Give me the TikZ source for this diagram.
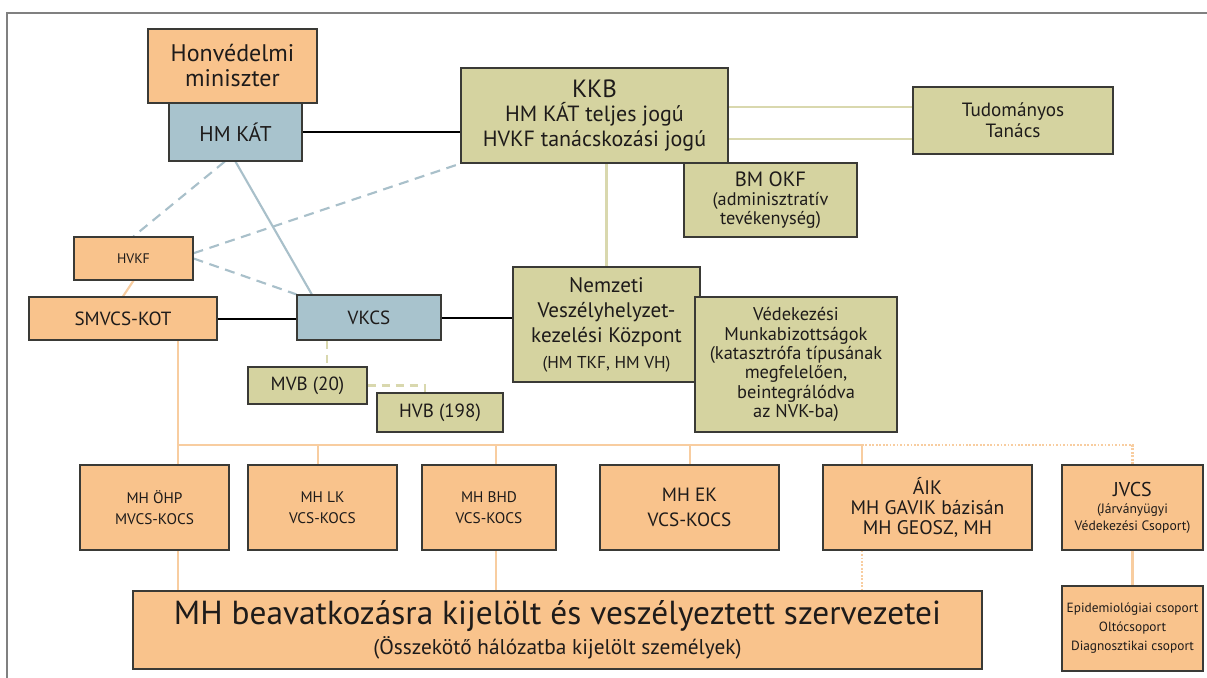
\documentclass[tikz,border=0pt]{standalone}
\usepackage{fontspec}
\setmainfont{PT Sans}
\usetikzlibrary{backgrounds}
\definecolor{narancs}{HTML}{F9C38C}
\definecolor{oliva}{HTML}{D5D3A0}
\definecolor{kek}{HTML}{A8C3CD}
\definecolor{keret}{HTML}{3A3A36}
\definecolor{szoveg}{HTML}{1E1B1A}
\definecolor{nvon}{HTML}{F8CDA0}
\definecolor{ovon}{HTML}{D9D8AE}
\definecolor{kvon}{HTML}{A9C0CA}
\newcommand\meret[2]{\fontsize{#1pt}{#2pt}\selectfont}

\begin{document}
\begin{tikzpicture}[x=0.75pt,y=-0.75pt,
doboz/.style={draw=keret,line width=0.9pt,inner sep=0pt,align=center,text=szoveg},
nb/.style={doboz,fill=narancs},ob/.style={doboz,fill=oliva},kb/.style={doboz,fill=kek},
bx/.style 2 args={minimum width=#1*0.75pt,minimum height=#2*0.75pt},
fekete/.style={line width=1.5pt,black},
nvonal/.style={line width=1.6pt,nvon},
ovonal/.style={line width=1.6pt,ovon},
kvonal/.style={line width=1.6pt,kvon},
kszag/.style={line width=1.6pt,kvon,dash pattern=on 7.5pt off 5pt},
oszag/.style={line width=1.6pt,ovon,dash pattern=on 6pt off 4.5pt},
pontozott/.style={line width=1.6pt,nvon,dash pattern=on 1.3pt off 1.3pt}]
\useasboundingbox (0,0) rectangle (1207,678);
\draw[line width=1.2pt,gray] (1207,13) -- (7,13) -- (7,678);

\node[nb,bx={169}{74},font=\meret{18}{18.75}] (minis) at (232.5,66) {Honvédelmi\\miniszter};
\node[kb,bx={133}{58},font=\meret{16}{18}] (hmkat) at (235.5,132) {HM KÁT};
\node[ob,bx={267}{95},font=\meret{16.5}{18.5}] (kkb) at (594.5,115.5) {{\meret{18.7}{20}KKB}\\HM KÁT teljes jogú\\HVKF tanácskozási jogú};
\node[ob,bx={200}{67},font=\meret{14.4}{15.5}] (tt) at (1013,120.5) {Tudományos\\Tanács};
\node[ob,bx={173}{74},font=\meret{13.7}{14}] (bmokf) at (770.5,200) {{\meret{15.5}{16}BM OKF}\\(adminisztratív\\tevékenység)};
\node[nb,bx={119}{43},font=\meret{10.4}{12}] (hvkf) at (133.5,258.5) {HVKF};
\node[nb,bx={188}{43},font=\meret{14.3}{16}] (smvcs) at (123,318.5) {SMVCS-KOT};
\node[kb,bx={144}{45},font=\meret{14.3}{16}] (vkcs) at (369,317.5) {VKCS};
\node[ob,bx={119}{37},font=\meret{14.3}{16}] (mvb) at (307.5,385.5) {MVB (20)};
\node[ob,bx={126}{39},font=\meret{14.3}{16}] (hvb) at (440,412.5) {HVB (198)};
\node[ob,bx={187}{115},font=\meret{15.8}{19}] (nvk) at (606.5,324.5) {Nemzeti\\Veszélyhelyzet-\\kezelési Központ\\{\meret{12.9}{19}(HM TKF, HM VH)}};
\node[ob,bx={202}{135},font=\meret{13.8}{14.5}] (vmb) at (796,364.5) {Védekezési\\Munkabizottságok\\(katasztrófa típusának\\megfelelően,\\beintegrálódva\\az NVK-ba)};

\node[nb,bx={149}{85},font=\meret{11.5}{15.75}] (ohp) at (154.5,507.5) {MH ÖHP\\MVCS-KOCS};
\node[nb,bx={149}{85},font=\meret{11.5}{15.75}] (lk) at (322.5,507.5) {MH LK\\VCS-KOCS};
\node[nb,bx={134}{85},font=\meret{11.5}{15.75}] (bhd) at (489,507.5) {MH BHD\\VCS-KOCS};
\node[nb,bx={179}{85},font=\meret{14.4}{18.75}] (ek) at (689.5,507.5) {MH EK\\VCS-KOCS};
\node[nb,bx={209}{85},font=\meret{14.7}{15.2}] (aik) at (927.5,507.5) {ÁIK\\MH GAVIK bázisán\\MH GEOSZ, MH};
\node[nb,bx={141}{85},font=\meret{10.2}{12.75}] (jvcs) at (1132.5,507.5) {{\meret{15}{17}JVCS}\\(Járványügyi\\Védekezési Csoport)};
\node[nb,bx={141}{85},font=\meret{10}{14.25}] (epi) at (1132.5,628.5) {Epidemiológiai csoport\\Oltócsoport\\Diagnosztikai csoport};
\node[nb,bx={849}{78},font=\meret{16}{22.5}] (big) at (557.5,630) {{\meret{25}{24}MH beavatkozásra kijelölt és veszélyeztett szervezetei}\\(Összekötő hálózatba kijelölt személyek)};

\coordinate (bus) at (0,445);
\coordinate (x1) at (178,0);
\coordinate (x2) at (318,0);
\coordinate (x3) at (496,0);
\coordinate (x4) at (690,0);
\coordinate (x5) at (862,0);
\coordinate (x7) at (327,0);
\coordinate (x8) at (425,0);
\coordinate (ya) at (0,107);
\coordinate (yb) at (0,139);

\begin{scope}[on background layer]
\draw[fekete] (hmkat.east) -- (hmkat.east -| kkb.west);
\draw[fekete] (smvcs.east) -- (smvcs.east -| vkcs.west);
\draw[fekete] (vkcs.east) -- (vkcs.east -| nvk.west);
\draw[ovonal] (kkb.east |- ya) -- (tt.west |- ya);
\draw[ovonal] (kkb.east |- yb) -- (tt.west |- yb);
\draw[ovonal] (kkb.south -| nvk.north) -- (nvk.north);
\draw[kvonal] (hmkat.south) -- (vkcs.158);
\draw[kszag] (hmkat.250) -- (hvkf.north);
\draw[kszag] (hvkf.5) -- (kkb.south west);
\draw[kszag] (hvkf.east) -- (vkcs.north west);
\draw[oszag] (vkcs.south -| x7) -- (mvb.north -| x7);
\draw[oszag] (mvb.east) -- (mvb.east -| x8) -- (hvb.north -| x8);
\draw[nvonal] (hvkf.south) -- (smvcs.north);
\draw[nvonal] (smvcs.south -| x1) -- (big.north -| x1);
\draw[nvonal] (bus -| x1) -- (bus -| x5);
\draw[nvonal] (bus -| x2) -- (lk.north -| x2);
\draw[nvonal] (bus -| x3) -- (big.north -| x3);
\draw[nvonal] (bus -| x4) -- (ek.north -| x4);
\draw[nvonal] (bus -| x5) -- (aik.north -| x5);
\draw[pontozott] (bus -| x5) -- (bus -| jvcs.north) -- (jvcs.north);
\draw[pontozott] (aik.south -| x5) -- (big.north -| x5);
\draw[nvonal] (jvcs.south) -- (epi.north);
\end{scope}
\end{tikzpicture}
\end{document}
